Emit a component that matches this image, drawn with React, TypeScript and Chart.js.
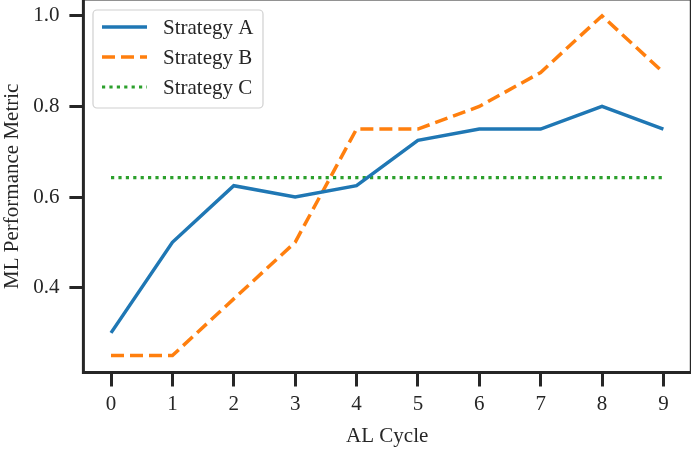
import React, { useEffect, useRef } from "react";
import { Chart, registerables } from "chart.js";

Chart.register(...registerables);

const cycles = [0, 1, 2, 3, 4, 5, 6, 7, 8, 9];
const strategyA = [0.3, 0.5, 0.625, 0.6, 0.625, 0.725, 0.75, 0.75, 0.8, 0.75];
const strategyB = [0.25, 0.25, 0.375, 0.5, 0.75, 0.75, 0.8, 0.875, 1.0, 0.875];
const strategyC = [0.643, 0.643, 0.643, 0.643, 0.643, 0.643, 0.643, 0.643, 0.643, 0.643];
const seriesNames = ["Strategy A", "Strategy B", "Strategy C"];
const yTicks = [0.4, 0.6, 0.8, 1.0];
const xTitle = "AL Cycle";
const yTitle = "ML Performance Metric";

const FONT = "'Liberation Serif', 'DejaVu Serif', serif";
const INK = "#262626";
const FS = 21;

export default function App() {
  const ref = useRef<HTMLCanvasElement | null>(null);

  useEffect(() => {
    const canvas = ref.current;
    if (!canvas) return;

    const spines = {
      id: "spines",
      afterDatasetsDraw(chart: any) {
        const { ctx, chartArea } = chart;
        const { left, right, top, bottom } = chartArea;
        ctx.save();
        ctx.strokeStyle = INK;
        ctx.lineWidth = 3;
        ctx.lineCap = "butt";
        ctx.beginPath();
        ctx.moveTo(left, top - 1);
        ctx.lineTo(left, bottom);
        ctx.lineTo(right + 1, bottom);
        ctx.stroke();
        ctx.beginPath();
        ctx.moveTo(left, top - 1);
        ctx.lineTo(right + 0.3, top - 1);
        ctx.lineTo(right + 0.3, bottom);
        ctx.stroke();
        ctx.restore();
      },
    };

    const legendBox = {
      id: "legendBox",
      afterDraw(chart: any) {
        const { ctx } = chart;
        const x0 = 93, y0 = 10, w = 170, h = 98, r = 4;
        ctx.save();
        ctx.fillStyle = "rgba(255,255,255,0.85)";
        ctx.strokeStyle = "#d0d0d0";
        ctx.lineWidth = 1.2;
        ctx.beginPath();
        ctx.roundRect(x0, y0, w, h, r);
        ctx.fill();
        ctx.stroke();
        chart.data.datasets.forEach((ds: any, i: number) => {
          const y = 27 + i * 30;
          ctx.strokeStyle = ds.borderColor;
          ctx.lineWidth = ds.borderWidth;
          ctx.setLineDash(ds.borderDash || []);
          ctx.beginPath();
          ctx.moveTo(102, y);
          ctx.lineTo(147, y);
          ctx.stroke();
          ctx.setLineDash([]);
          ctx.fillStyle = INK;
          ctx.font = `${FS}px ${FONT}`;
          ctx.textBaseline = "middle";
          ctx.textAlign = "left";
          ctx.fillText(ds.label, 163, y + 1);
        });
        ctx.restore();
      },
    };

    const toPts = (vals: number[]) => cycles.map((c, i) => ({ x: c, y: vals[i] }));

    const chart = new Chart(canvas, {
      type: "line",
      data: {
        datasets: [
          {
            label: seriesNames[0],
            data: toPts(strategyA),
            borderColor: "#1f77b4",
            borderWidth: 3.5,
            pointRadius: 0,
            tension: 0,
            fill: false,
          },
          {
            label: seriesNames[1],
            data: toPts(strategyB),
            borderColor: "#ff7f0e",
            borderWidth: 3.5,
            borderDash: [13, 6],
            pointRadius: 0,
            tension: 0,
            fill: false,
          },
          {
            label: seriesNames[2],
            data: toPts(strategyC),
            borderColor: "#2ca02c",
            borderWidth: 3.2,
            borderDash: [3.2, 4.2],
            pointRadius: 0,
            tension: 0,
            fill: false,
          },
        ],
      },
      options: {
        animation: false,
        responsive: true,
        maintainAspectRatio: false,
        layout: { padding: 0 },
        plugins: {
          legend: { display: false },
          tooltip: { enabled: false },
        },
        scales: {
          x: {
            type: "linear",
            min: -0.45,
            max: 9.45,
            afterBuildTicks(scale: any) {
              scale.ticks = cycles.map((v) => ({ value: v }));
            },
            afterFit(scale: any) {
              scale.height = 76.5;
              scale.paddingLeft = 0;
              scale.paddingRight = 0;
            },
            grid: {
              display: true,
              drawOnChartArea: false,
              drawTicks: true,
              tickLength: 14,
              tickWidth: 3,
              tickColor: INK,
            },
            border: { display: false },
            ticks: {
              padding: 5,
              color: INK,
              font: { family: FONT, size: FS },
              maxRotation: 0,
              autoSkip: false,
              callback: (v: any) => String(v),
            },
            title: {
              display: true,
              text: xTitle,
              color: INK,
              font: { family: FONT, size: FS },
              padding: 0,
            },
          },
          y: {
            type: "linear",
            min: 0.2125,
            max: 1.035,
            afterBuildTicks(scale: any) {
              scale.ticks = yTicks.map((v) => ({ value: v }));
            },
            afterFit(scale: any) {
              scale.width = 83.4;
              scale.paddingTop = 0;
              scale.paddingBottom = 0;
            },
            grid: {
              display: true,
              drawOnChartArea: false,
              drawTicks: true,
              tickLength: 14,
              tickWidth: 3,
              tickColor: INK,
            },
            border: { display: false },
            ticks: {
              padding: 10,
              color: INK,
              font: { family: FONT, size: FS },
              autoSkip: false,
              callback: (v: any) => Number(v).toFixed(1),
            },
            title: {
              display: true,
              text: yTitle,
              color: INK,
              font: { family: FONT, size: FS },
              padding: 0,
            },
          },
        },
      },
      plugins: [spines, legendBox],
    });

    return () => chart.destroy();
  }, []);

  return (
    <div style={{ position: "fixed", left: 0, top: 0, width: 691, height: 449, background: "#fff" }}>
      <canvas ref={ref} />
    </div>
  );
}
